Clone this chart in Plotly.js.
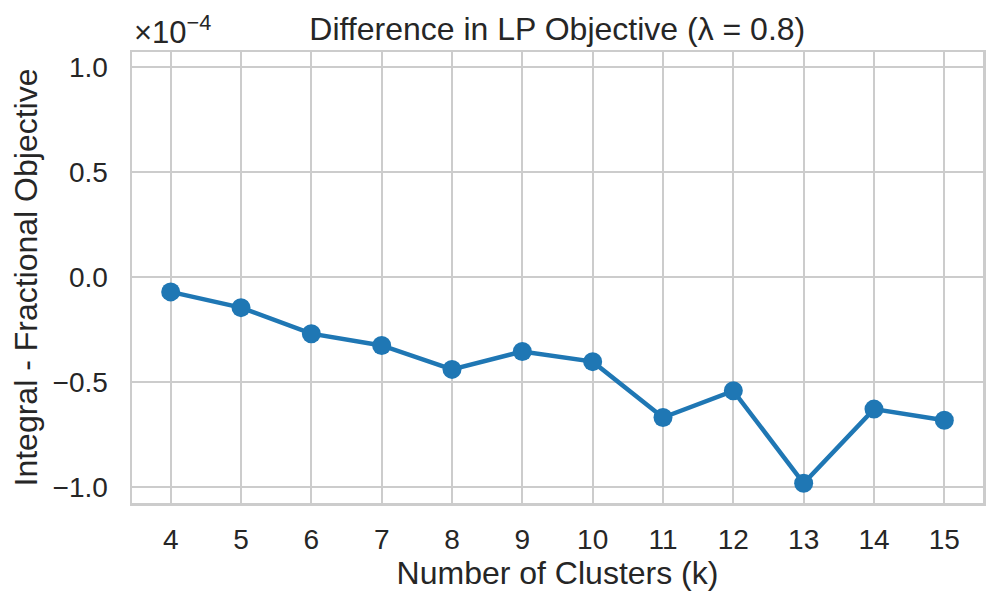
<!DOCTYPE html>
<html>
<head>
<meta charset="utf-8">
<script src="https://cdn.plot.ly/plotly-3.0.1.min.js"></script>
<style>html,body{margin:0;padding:0;background:#fff;}#chart{width:996px;height:605px;}</style>
</head>
<body>
<div id="chart"></div>
<script>
// Number of clusters
const clusters = [4, 5, 6, 7, 8, 9, 10, 11, 12, 13, 14, 15];
// Integral - fractional objective, in units of 1e-4
const diffE4 = [-0.071, -0.146, -0.270, -0.326, -0.440, -0.355, -0.403, -0.669, -0.542, -0.982, -0.629, -0.682];
const yTickVals = [-1.0, -0.5, 0.0, 0.5, 1.0];
const yTickText = ["\u22121.0", "\u22120.5", "0.0", "0.5", "1.0"];

const font = "Liberation Sans, Arial, Helvetica, sans-serif";
const trace = {
  x: clusters,
  y: diffE4,
  type: "scatter",
  mode: "lines+markers",
  line: {color: "#1f77b4", width: 4.5},
  marker: {color: "#1f77b4", size: 19},
  hoverinfo: "x+y"
};
const layout = {
  width: 996, height: 605,
  margin: {l: 132, r: 13, t: 52, b: 102},
  paper_bgcolor: "#fff", plot_bgcolor: "#fff",
  showlegend: false,
  font: {family: font, color: "#262626", size: 28},
  title: {text: "Difference in LP Objective (\u03bb = 0.8)", x: 0.5595, xanchor: "center", y: 0.952, yanchor: "middle", font: {family: font, size: 32, color: "#262626"}},
  xaxis: {
    range: [3.45, 15.55],
    tickvals: clusters, ticktext: clusters.map(String),
    showgrid: true, gridcolor: "#cccccc", gridwidth: 2,
    zeroline: false,
    showline: true, mirror: true, linecolor: "#cccccc", linewidth: 2.5,
    ticks: "outside", ticklen: 10, tickcolor: "rgba(0,0,0,0)",
    tickfont: {family: font, size: 28, color: "#262626"},
    title: {text: "Number of Clusters (k)", font: {family: font, size: 32, color: "#262626"}, standoff: 2}
  },
  yaxis: {
    range: [-1.076, 1.071],
    tickvals: yTickVals, ticktext: yTickText,
    showgrid: true, gridcolor: "#cccccc", gridwidth: 2,
    zeroline: false,
    showline: true, mirror: true, linecolor: "#cccccc", linewidth: 2.5,
    ticks: "outside", ticklen: 16, tickcolor: "rgba(0,0,0,0)",
    tickfont: {family: font, size: 28, color: "#262626"},
    title: {text: "Integral - Fractional Objective", font: {family: font, size: 32, color: "#262626"}, standoff: 6}
  },
  shapes: [{
    type: "line", xref: "paper", yref: "y", x0: 0, x1: 1, y0: 0, y1: 0,
    line: {color: "#808080", width: 1.5, dash: "dash"}, layer: "below"
  }],
  annotations: [{
    text: "\u00d710<sup>\u22124</sup>", xref: "paper", yref: "paper",
    x: 0, y: 1, xanchor: "left", yanchor: "bottom", xshift: 0, yshift: 0,
    showarrow: false, font: {family: font, size: 31, color: "#262626"}
  }]
};
Plotly.newPlot("chart", [trace], layout, {displayModeBar: false, staticPlot: true});
</script>
</body>
</html>
